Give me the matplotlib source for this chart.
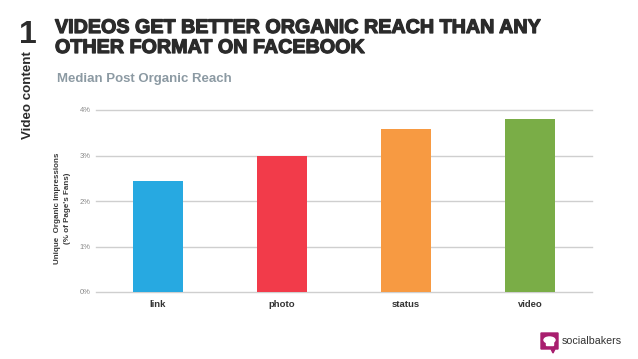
import matplotlib
matplotlib.use('Agg')
import matplotlib.pyplot as plt
import matplotlib.patheffects as pe
from matplotlib.patches import Polygon, Ellipse

categories = ['link', 'photo', 'status', 'video']
reach = [2.44, 3.0, 3.58, 3.80]
bar_colors = ['#27a9e1', '#f23b4a', '#f79a42', '#7aad47']
y_ticks = [0, 1, 2, 3, 4]
y_labels = ['0%', '1%', '2%', '3%', '4%']

W, H = 638, 359
plt.rcParams['font.family'] = ['Liberation Sans', 'DejaVu Sans']

fig = plt.figure(figsize=(W / 100, H / 100), dpi=100, facecolor='white')


# Position helper: pixel coordinates measured from the top left
def px_text(x, y, s, **kw):
    return fig.text(x / W, 1 - y / H, s, **kw)


# Main chart
ax = fig.add_axes([96 / W, 1 - 292 / H, 496 / W, 182 / H])
ax.bar(categories, reach, width=0.403, color=bar_colors, zorder=3)
ax.set_xlim(-0.5, 3.5)
ax.set_ylim(0, 4)
ax.set_yticks(y_ticks)
ax.set_yticklabels(y_labels, fontsize=5.5, color='#8a8a8a')
ax.tick_params(axis='y', length=0, pad=4)
ax.tick_params(axis='x', length=0, pad=6, labelsize=6.8, labelcolor='#333333')
for label in ax.get_xticklabels():
    label.set_fontweight('bold')
ax.grid(axis='y', color='#cfcfcf', linewidth=1, zorder=0)
ax.set_axisbelow(True)
for spine in ax.spines.values():
    spine.set_visible(False)
ax.patch.set_alpha(0)
for line in ax.get_ygridlines():
    line.set_clip_on(False)

px_text(62.5, 208, "Unique  Organic Impressions\n(% of Page's Fans)", fontsize=5.8, fontweight='bold',
        color='#3a3a3a', rotation=90, ha='center', va='center', linespacing=1.5)

# Header
thick = [pe.withStroke(linewidth=0.9, foreground='#2b2b2b')]
px_text(55, 33, 'VIDEOS GET BETTER ORGANIC REACH THAN ANY', fontsize=14.2, fontweight='bold',
        color='#2b2b2b', ha='left', va='baseline', path_effects=thick)
px_text(55, 53, 'OTHER FORMAT ON FACEBOOK', fontsize=14.2, fontweight='bold',
        color='#2b2b2b', ha='left', va='baseline', path_effects=thick)
px_text(57, 82, 'Median Post Organic Reach', fontsize=9.5, fontweight='bold', color='#8c9aa3',
        ha='left', va='baseline')
px_text(28, 43, '1', fontsize=23, fontweight='bold', color='#2b2b2b', ha='center', va='baseline')
px_text(28, 95.5, 'Video content', fontsize=9.6, fontweight='bold', color='#2b2b2b',
        rotation=90, ha='center', va='center')

# Logo
logo = fig.add_axes([0, 0, 1, 1], zorder=5)
logo.set_xlim(0, W)
logo.set_ylim(H, 0)
logo.axis('off')
logo.add_patch(Polygon([(541, 333), (558, 333), (558, 349), (555, 349), (553, 353), (551, 349), (541, 349)],
                       closed=True, color='#a81e6e'))
logo.add_patch(Ellipse((549.5, 340), 11, 6, color='white'))
logo.add_patch(Polygon([(546, 341), (553, 341), (553, 345), (546, 345)], closed=True, color='white'))
px_text(562, 340.5, 'socialbakers', fontsize=7.7, color='#333333', ha='left', va='center')

fig.savefig('out.png', dpi=100)
